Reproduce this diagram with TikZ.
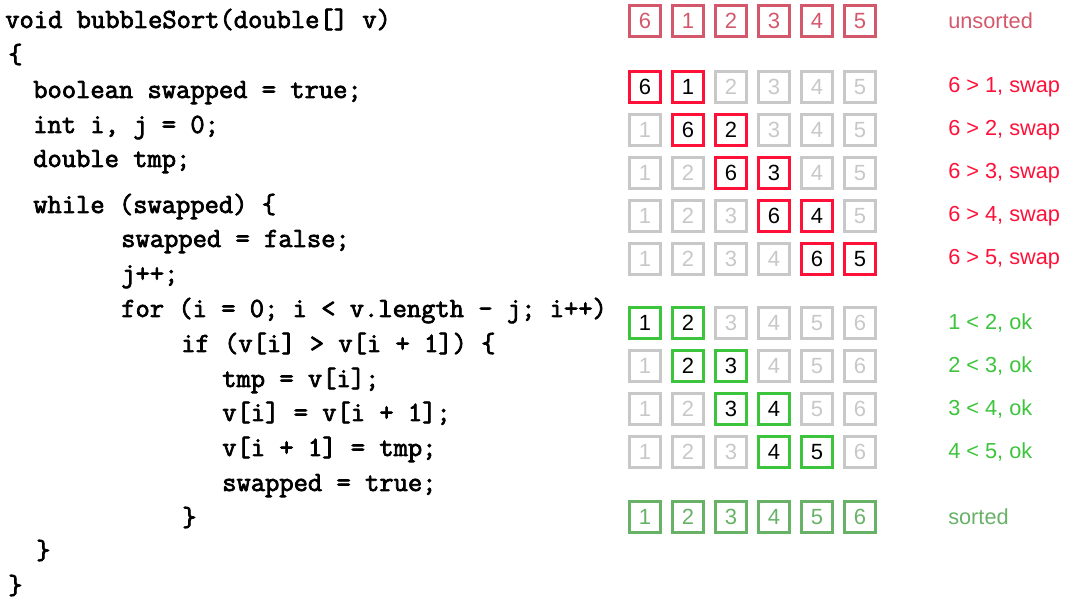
\documentclass[tikz,border=0pt]{standalone}
\usepackage{fontspec}
\setmainfont{Liberation Sans}
\newfontfamily\codefont{Latin Modern Mono}[FakeBold=2.6]
\usetikzlibrary{positioning}

\definecolor{unsortedred}{RGB}{212,88,108}
\definecolor{swapred}{RGB}{255,16,56}
\definecolor{cellgray}{RGB}{200,200,200}
\definecolor{okgreen}{RGB}{60,196,60}
\definecolor{sortedgreen}{RGB}{104,178,104}

\begin{document}
\begin{tikzpicture}[
  x=0.75pt, y=-0.75pt,
  code/.style={anchor=base west, inner sep=0pt, font=\codefont\fontsize{20.8}{22}\selectfont},
  cell/.style={rectangle, draw=cellgray, text=cellgray, line width=1.8pt, minimum size=23pt, inner sep=0pt, font=\fontsize{16.5}{16.5}\selectfont},
  swapcell/.style={cell, draw=swapred, text=black},
  okcell/.style={cell, draw=okgreen, text=black},
  note/.style={anchor=west, inner sep=0pt, font=\fontsize{16.3}{16.3}\selectfont}
]
\useasboundingbox (0,0) rectangle (1065,605);

% code
\node[code] (sig)     at (5,28)    {void bubbleSort(double[] v)};
\node[code] (open)    at (8,63)    {\{};
\node[code] (decl)    at (33,98)   {boolean swapped = true;};
\node[code] (idx)     at (33,133)  {int i, j = 0;};
\node[code] (tmpdecl) at (33,167)  {double tmp;};
\node[code] (while)   at (33,213)  {while (swapped) \{};
\node[code] (reset)   at (121,247) {swapped = false;};
\node[code] (jinc)    at (121,282) {j++;};
\node[code] (for)     at (121,317) {for (i = 0; i < v.length - j; i++)};
\node[code] (if)      at (181,352) {if (v[i] > v[i + 1]) \{};
\node[code] (save)    at (222,387) {tmp = v[i];};
\node[code] (shift)   at (222,421) {v[i] = v[i + 1];};
\node[code] (put)     at (222,456) {v[i + 1] = tmp;};
\node[code] (flag)    at (222,491) {swapped = true;};
\node[code] (endif)   at (182,526) {\}};
\node[code] (endwh)   at (36,559)  {\}};
\node[code] (close)   at (8,594)   {\}};

% unsorted
\foreach \v [count=\c] in {6,1,2,3,4,5}
  \node[cell, draw=unsortedred, text=unsortedred] (u\c) at ({602+43*\c},21) {\v};
\node[note, text=unsortedred] (ulabel) at (948,21) {unsorted};

% first pass, swaps
\foreach \r/\y/\vals in {1/87/{6,1,2,3,4,5}, 2/130/{1,6,2,3,4,5}, 3/173/{1,2,6,3,4,5}, 4/216/{1,2,3,6,4,5}, 5/259/{1,2,3,4,6,5}} {
  \foreach \v [count=\c] in \vals {
    \pgfmathtruncatemacro\hot{(\c==\r)||(\c==\r+1)}
    \ifnum\hot=1
      \node[swapcell] (s\r-\c) at ({602+43*\c},\y) {\v};
    \else
      \node[cell] (s\r-\c) at ({602+43*\c},\y) {\v};
    \fi
  }
  \node[note, text=swapred] (slabel\r) at (948,\y) {6 > \r, swap};
}

% second pass, no swaps
\foreach \r/\y in {1/323, 2/366, 3/409, 4/452} {
  \pgfmathtruncatemacro\nxt{\r+1}
  \foreach \c in {1,...,6} {
    \pgfmathtruncatemacro\hot{(\c==\r)||(\c==\r+1)}
    \ifnum\hot=1
      \node[okcell] (k\r-\c) at ({602+43*\c},\y) {\c};
    \else
      \node[cell] (k\r-\c) at ({602+43*\c},\y) {\c};
    \fi
  }
  \node[note, text=okgreen] (klabel\r) at (948,\y) {\r{} < \nxt, ok};
}

% sorted
\foreach \c in {1,...,6}
  \node[cell, draw=sortedgreen, text=sortedgreen] (d\c) at ({602+43*\c},517) {\c};
\node[note, text=sortedgreen] (dlabel) at (948,517) {sorted};

\end{tikzpicture}
\end{document}
